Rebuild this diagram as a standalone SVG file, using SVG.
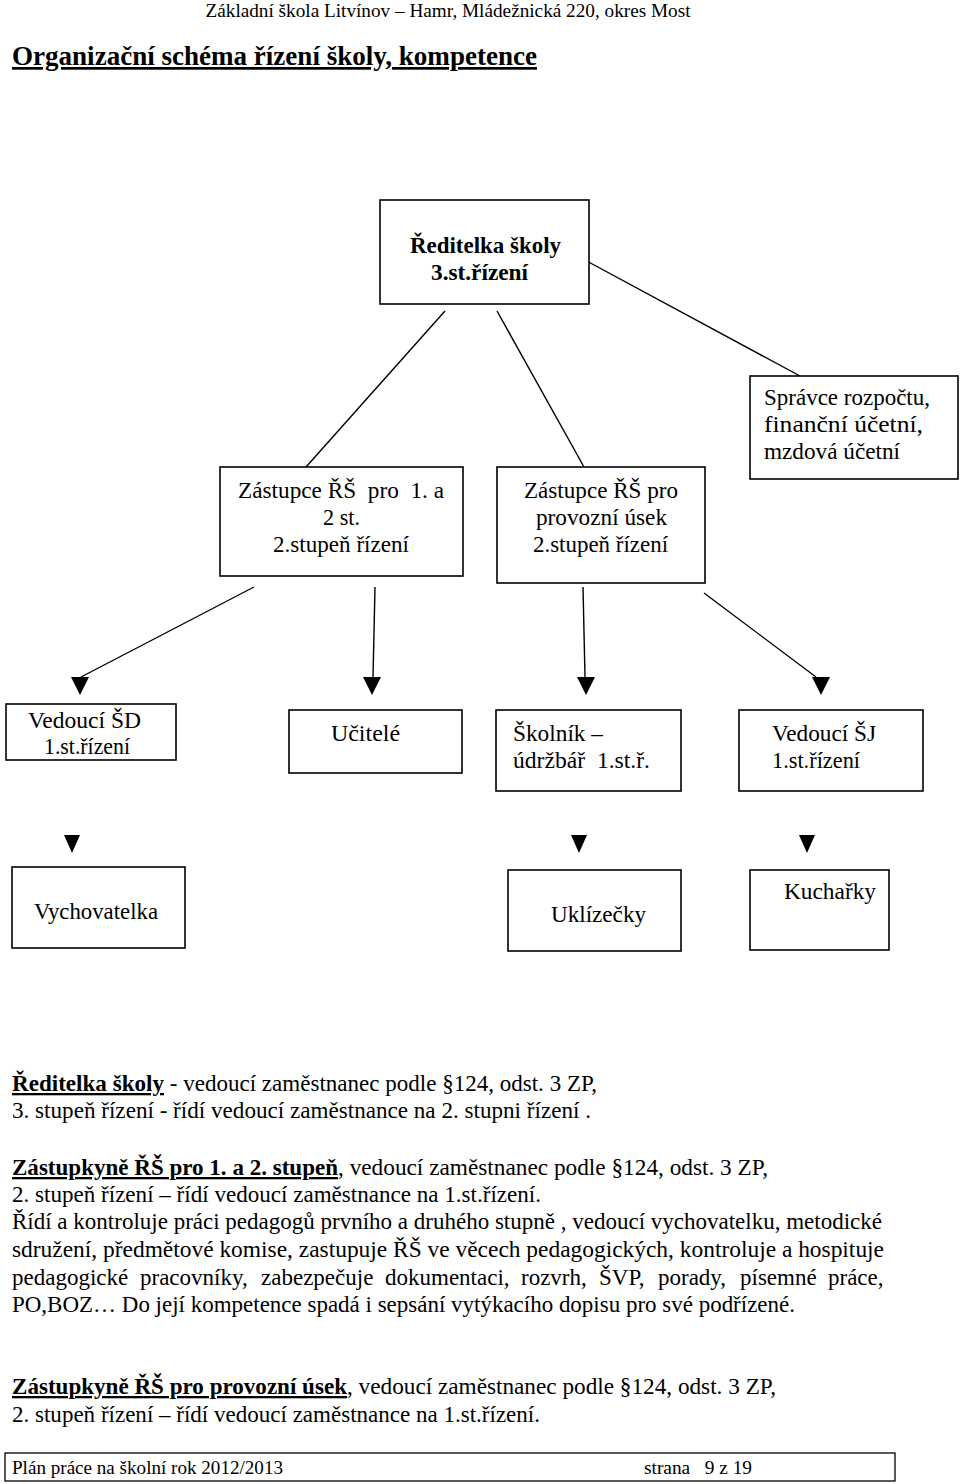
<svg xmlns="http://www.w3.org/2000/svg" xmlns:xlink="http://www.w3.org/1999/xlink" width="960" height="1484" viewBox="0 0 960 1484">
<style>
text{font-family:"Liberation Serif","Times New Roman",serif;fill:#000;}
.t{font-size:23px;}
.b{font-weight:bold;}
.u{text-decoration:underline;}
.box{fill:#fff;stroke:#000;stroke-width:1.6;}
.ln{stroke:#000;stroke-width:1.4;fill:none;}
</style>
<defs>
<path id="ah" d="M-9,0 L9,0 L0,18 Z" fill="#000"/>
<path id="ah2" d="M-8,0 L8,0 L0,18 Z" fill="#000"/>
</defs>
<rect width="960" height="1484" fill="#fff"/>

<text x="448" y="17" font-size="19" text-anchor="middle" textLength="485" lengthAdjust="spacingAndGlyphs">Základní škola Litvínov – Hamr, Mládežnická 220, okres Most</text>
<text x="12" y="65" font-size="27" class="b u" textLength="525" lengthAdjust="spacingAndGlyphs">Organizační schéma řízení školy, kompetence</text>

<g id="connectors">
<line class="ln" x1="445" y1="311" x2="306" y2="467"/>
<line class="ln" x1="497" y1="311" x2="584" y2="467"/>
<line class="ln" x1="583" y1="259" x2="800" y2="376"/>
<line class="ln" x1="254" y1="587" x2="81" y2="677"/>
<line class="ln" x1="375" y1="587" x2="373" y2="677"/>
<line class="ln" x1="583" y1="587" x2="585" y2="677"/>
<line class="ln" x1="704" y1="593" x2="816" y2="677"/>
<use xlink:href="#ah" x="80" y="677"/>
<use xlink:href="#ah" x="372" y="677"/>
<use xlink:href="#ah" x="586" y="677"/>
<use xlink:href="#ah" x="821" y="677"/>
<use xlink:href="#ah2" x="72" y="835"/>
<use xlink:href="#ah2" x="579" y="835"/>
<use xlink:href="#ah2" x="807" y="835"/>
</g>

<g id="reditelka">
<rect class="box" x="380" y="200" width="209" height="104"/>
<text class="t b" x="410" y="253" textLength="151" lengthAdjust="spacingAndGlyphs">Ředitelka školy</text>
<text class="t b" x="431" y="280" textLength="97" lengthAdjust="spacingAndGlyphs">3.st.řízení</text>
</g>

<g id="zastupce12">
<rect class="box" x="220" y="467" width="243" height="109"/>
<text class="t" x="238" y="498" textLength="206" lengthAdjust="spacingAndGlyphs" xml:space="preserve">Zástupce ŘŠ  pro  1. a</text>
<text class="t" x="323" y="525" textLength="37" lengthAdjust="spacingAndGlyphs">2 st.</text>
<text class="t" x="273" y="552" textLength="136" lengthAdjust="spacingAndGlyphs">2.stupeň řízení</text>
</g>

<g id="zastupceprov">
<rect class="box" x="497" y="467" width="208" height="116"/>
<text class="t" x="524" y="498" textLength="154" lengthAdjust="spacingAndGlyphs">Zástupce ŘŠ pro</text>
<text class="t" x="536" y="525" textLength="131" lengthAdjust="spacingAndGlyphs">provozní úsek</text>
<text class="t" x="533" y="552" textLength="135" lengthAdjust="spacingAndGlyphs">2.stupeň řízení</text>
</g>

<g id="spravce">
<rect class="box" x="750" y="376" width="208" height="103"/>
<text class="t" x="764" y="405" textLength="166" lengthAdjust="spacingAndGlyphs">Správce rozpočtu,</text>
<text class="t" x="764" y="432" textLength="159" lengthAdjust="spacingAndGlyphs">finanční účetní,</text>
<text class="t" x="764" y="459" textLength="136" lengthAdjust="spacingAndGlyphs">mzdová účetní</text>
</g>

<g id="vedouciSD">
<rect class="box" x="6" y="704" width="170" height="56"/>
<text class="t" x="28" y="728" textLength="113" lengthAdjust="spacingAndGlyphs">Vedoucí ŠD</text>
<text class="t" x="44" y="754" textLength="86" lengthAdjust="spacingAndGlyphs">1.st.řízení</text>
</g>

<g id="ucitele">
<rect class="box" x="289" y="710" width="173" height="63"/>
<text class="t" x="331" y="741" textLength="69" lengthAdjust="spacingAndGlyphs">Učitelé</text>
</g>

<g id="skolnik">
<rect class="box" x="496" y="710" width="185" height="81"/>
<text class="t" x="513" y="741" textLength="90" lengthAdjust="spacingAndGlyphs">Školník –</text>
<text class="t" x="513" y="768" textLength="137" lengthAdjust="spacingAndGlyphs" xml:space="preserve">údržbář  1.st.ř.</text>
</g>

<g id="vedouciSJ">
<rect class="box" x="739" y="710" width="184" height="81"/>
<text class="t" x="772" y="741" textLength="104" lengthAdjust="spacingAndGlyphs">Vedoucí ŠJ</text>
<text class="t" x="772" y="768" textLength="88" lengthAdjust="spacingAndGlyphs">1.st.řízení</text>
</g>

<g id="vychovatelka">
<rect class="box" x="12" y="867" width="173" height="81"/>
<text class="t" x="34" y="919" textLength="124" lengthAdjust="spacingAndGlyphs">Vychovatelka</text>
</g>

<g id="uklizecky">
<rect class="box" x="508" y="870" width="173" height="81"/>
<text class="t" x="551" y="922" textLength="95" lengthAdjust="spacingAndGlyphs">Uklízečky</text>
</g>

<g id="kucharky">
<rect class="box" x="750" y="870" width="139" height="80"/>
<text class="t" x="784" y="899" textLength="92" lengthAdjust="spacingAndGlyphs">Kuchařky</text>
</g>

<g id="popis">
<text class="t b u" x="12" y="1091" textLength="152" lengthAdjust="spacingAndGlyphs">Ředitelka školy</text>
<text class="t" x="164" y="1091" textLength="433" lengthAdjust="spacingAndGlyphs" xml:space="preserve"> - vedoucí zaměstnanec podle §124, odst. 3 ZP,</text>
<text class="t" x="12" y="1118" textLength="579" lengthAdjust="spacingAndGlyphs">3. stupeň řízení - řídí vedoucí zaměstnance na 2. stupni řízení .</text>

<text class="t b u" x="12" y="1175" textLength="326" lengthAdjust="spacingAndGlyphs">Zástupkyně ŘŠ pro 1. a 2. stupeň</text>
<text class="t" x="338" y="1175" textLength="430" lengthAdjust="spacingAndGlyphs">, vedoucí zaměstnanec podle §124, odst. 3 ZP,</text>
<text class="t" x="12" y="1202" textLength="529" lengthAdjust="spacingAndGlyphs">2. stupeň řízení – řídí vedoucí zaměstnance na 1.st.řízení.</text>
<text class="t" x="12" y="1229" textLength="870" lengthAdjust="spacingAndGlyphs">Řídí a kontroluje práci pedagogů prvního a druhého stupně , vedoucí vychovatelku, metodické</text>
<text class="t" x="12" y="1257" textLength="872" lengthAdjust="spacingAndGlyphs">sdružení, předmětové komise, zastupuje ŘŠ ve věcech pedagogických, kontroluje a hospituje</text>
<text class="t" y="1285"><tspan x="12">pedagogické</tspan><tspan x="140">pracovníky,</tspan><tspan x="261">zabezpečuje</tspan><tspan x="385">dokumentaci,</tspan><tspan x="521">rozvrh,</tspan><tspan x="599">ŠVP,</tspan><tspan x="658">porady,</tspan><tspan x="740">písemné</tspan><tspan x="828">práce,</tspan></text>
<text class="t" x="12" y="1312" textLength="783" lengthAdjust="spacingAndGlyphs">PO,BOZ… Do její kompetence spadá i sepsání vytýkacího dopisu pro své podřízené.</text>

<text class="t b u" x="12" y="1394" textLength="335" lengthAdjust="spacingAndGlyphs">Zástupkyně ŘŠ pro provozní úsek</text>
<text class="t" x="347" y="1394" textLength="429" lengthAdjust="spacingAndGlyphs">, vedoucí zaměstnanec podle §124, odst. 3 ZP,</text>
<text class="t" x="12" y="1422" textLength="528" lengthAdjust="spacingAndGlyphs">2. stupeň řízení – řídí vedoucí zaměstnance na 1.st.řízení.</text>
</g>

<g id="paticka">
<rect x="5" y="1453" width="890" height="28" fill="none" stroke="#000" stroke-width="1.3"/>
<text x="12" y="1474" font-size="19" textLength="271" lengthAdjust="spacingAndGlyphs">Plán práce na školní rok 2012/2013</text>
<text x="644" y="1474" font-size="19" textLength="108" lengthAdjust="spacingAndGlyphs" xml:space="preserve">strana   9 z 19</text>
</g>
</svg>
